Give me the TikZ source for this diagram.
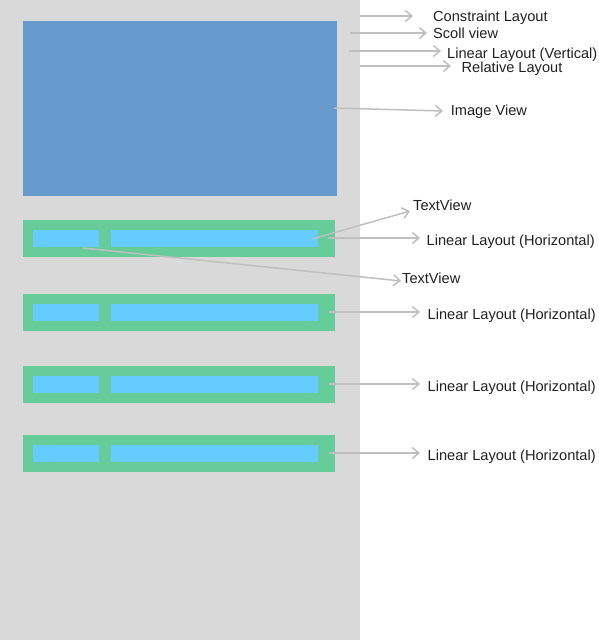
\documentclass[tikz,border=0pt]{standalone}
\usepackage{fontspec}
\setmainfont{Liberation Sans}
\usetikzlibrary{arrows.meta}
\definecolor{bggray}{HTML}{D9D9D9}
\definecolor{imgblue}{HTML}{6699CC}
\definecolor{llgreen}{HTML}{66CC99}
\definecolor{tvcyan}{HTML}{66CCFF}
\definecolor{arrgray}{HTML}{BFBFBF}
\definecolor{txt}{HTML}{222222}
\tikzset{
  lbl/.style={anchor=base west, inner sep=0pt, text=txt, font=\fontsize{14.6}{17}\selectfont},
  pointer/.style={draw=arrgray, line width=1.5pt, -{Straight Barb[length=6.5pt,width=11pt,line width=1.5pt]}},
  greenbar/.style={fill=llgreen},
  cyanbox/.style={fill=tvcyan}
}
\begin{document}
\begin{tikzpicture}[x=1pt,y=-1pt]
\useasboundingbox (0,0) rectangle (598,640);
\fill[white] (0,0) rectangle (598,640);
\fill[bggray] (0,0) rectangle (360,640);
\fill[imgblue] (23,21) rectangle (337,196);
% bars
\foreach \t in {220,294,366,435}{
  \fill[greenbar] (23,\t) rectangle (335,\t+37);
  \fill[cyanbox] (33,\t+10) rectangle (99,\t+27);
  \fill[cyanbox] (111,\t+10) rectangle (318,\t+27);
}
% labels
\node[lbl] (cl) at (433,21.7) {Constraint Layout};
\node[lbl] (sv) at (433,38.3) {Scoll view};
\node[lbl] (llv) at (447,58.3) {Linear Layout (Vertical)};
\node[lbl] (rl) at (461.5,72.7) {Relative Layout};
\node[lbl] (iv) at (450.7,115) {Image View};
\node[lbl] (tv1) at (413,210.7) {TextView};
\node[lbl] (llh1) at (426.5,245.3) {Linear Layout (Horizontal)};
\node[lbl] (tv2) at (402,283) {TextView};
\node[lbl] (llh2) at (427.5,319.3) {Linear Layout (Horizontal)};
\node[lbl] (llh3) at (427.5,391.3) {Linear Layout (Horizontal)};
\node[lbl] (llh4) at (427.5,460.3) {Linear Layout (Horizontal)};
% arrow endpoints
\coordinate (clS) at (360,16); \coordinate (clE) at (413,16);
\coordinate (svS) at (350,33); \coordinate (svE) at (427,33);
\coordinate (llvS) at (349,51); \coordinate (llvE) at (441,51);
\coordinate (rlS) at (360,66); \coordinate (rlE) at (451,66);
\coordinate (ivS) at (334,108); \coordinate (ivE) at (443,111);
\coordinate (tv1S) at (312,239); \coordinate (tv1E) at (410,211);
\coordinate (llh1S) at (328,238); \coordinate (llh1E) at (420,238);
\coordinate (tv2S) at (83,248); \coordinate (tv2E) at (401,281);
\coordinate (llh2S) at (329,312); \coordinate (llh2E) at (420,312);
\coordinate (llh3S) at (329,384); \coordinate (llh3E) at (420,384);
\coordinate (llh4S) at (329,453); \coordinate (llh4E) at (420,453);
\foreach \n in {cl,sv,llv,rl,iv,tv1,llh1,tv2,llh2,llh3,llh4}{
  \draw[pointer] (\n S) -- (\n E);
}
\end{tikzpicture}
\end{document}
